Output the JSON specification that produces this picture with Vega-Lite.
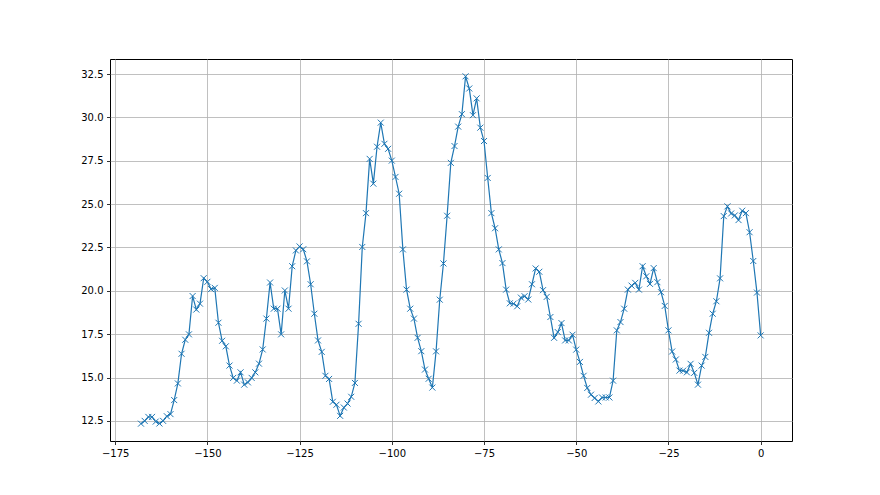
{
  "$schema": "https://vega.github.io/schema/vega-lite/v6.json",
  "width": 682,
  "height": 382,
  "autosize": {"type": "none"},
  "padding": {"left": 110, "top": 59, "right": 88, "bottom": 54},
  "background": "white",
  "config": {
    "view": {"stroke": "black", "strokeWidth": 1},
    "font": "DejaVu Sans"
  },
  "data": {
    "values": [
      {"x": -168, "y": 12.34}, {"x": -167, "y": 12.5}, {"x": -166, "y": 12.73}, {"x": -165, "y": 12.73},
      {"x": -164, "y": 12.46}, {"x": -163, "y": 12.35}, {"x": -162, "y": 12.5}, {"x": -161, "y": 12.77},
      {"x": -160, "y": 12.89}, {"x": -159, "y": 13.7}, {"x": -158, "y": 14.66}, {"x": -157, "y": 16.37},
      {"x": -156, "y": 17.18}, {"x": -155, "y": 17.49}, {"x": -154, "y": 19.7}, {"x": -153, "y": 18.92},
      {"x": -152, "y": 19.26}, {"x": -151, "y": 20.73}, {"x": -150, "y": 20.52}, {"x": -149, "y": 20.1},
      {"x": -148, "y": 20.17}, {"x": -147, "y": 18.16}, {"x": -146, "y": 17.12}, {"x": -145, "y": 16.8},
      {"x": -144, "y": 15.69}, {"x": -143, "y": 14.98}, {"x": -142, "y": 14.82}, {"x": -141, "y": 15.3},
      {"x": -140, "y": 14.59}, {"x": -139, "y": 14.72}, {"x": -138, "y": 14.98}, {"x": -137, "y": 15.3},
      {"x": -136, "y": 15.8}, {"x": -135, "y": 16.62}, {"x": -134, "y": 18.4}, {"x": -133, "y": 20.48},
      {"x": -132, "y": 18.97}, {"x": -131, "y": 18.97}, {"x": -130, "y": 17.49}, {"x": -129, "y": 20.02},
      {"x": -128, "y": 18.97}, {"x": -127, "y": 21.42}, {"x": -126, "y": 22.33}, {"x": -125, "y": 22.56},
      {"x": -124, "y": 22.4}, {"x": -123, "y": 21.7}, {"x": -122, "y": 20.38}, {"x": -121, "y": 18.68},
      {"x": -120, "y": 17.14}, {"x": -119, "y": 16.48}, {"x": -118, "y": 15.1}, {"x": -117, "y": 14.92},
      {"x": -116, "y": 13.6}, {"x": -115, "y": 13.43}, {"x": -114, "y": 12.79}, {"x": -113, "y": 13.27},
      {"x": -112, "y": 13.5}, {"x": -111, "y": 13.89}, {"x": -110, "y": 14.69}, {"x": -109, "y": 18.1},
      {"x": -108, "y": 22.53}, {"x": -107, "y": 24.48}, {"x": -106, "y": 27.61}, {"x": -105, "y": 26.18},
      {"x": -104, "y": 28.31}, {"x": -103, "y": 29.7}, {"x": -102, "y": 28.48}, {"x": -101, "y": 28.19},
      {"x": -100, "y": 27.51}, {"x": -99, "y": 26.57}, {"x": -98, "y": 25.6}, {"x": -97, "y": 22.39},
      {"x": -96, "y": 20.07}, {"x": -95, "y": 18.97}, {"x": -94, "y": 18.4}, {"x": -93, "y": 17.29},
      {"x": -92, "y": 16.52}, {"x": -91, "y": 15.46}, {"x": -90, "y": 14.93}, {"x": -89, "y": 14.42},
      {"x": -88, "y": 16.51}, {"x": -87, "y": 19.49}, {"x": -86, "y": 21.58}, {"x": -85, "y": 24.33},
      {"x": -84, "y": 27.38}, {"x": -83, "y": 28.35}, {"x": -82, "y": 29.47}, {"x": -81, "y": 30.19},
      {"x": -80, "y": 32.37}, {"x": -79, "y": 31.67}, {"x": -78, "y": 30.13}, {"x": -77, "y": 31.1},
      {"x": -76, "y": 29.41}, {"x": -75, "y": 28.64}, {"x": -74, "y": 26.51}, {"x": -73, "y": 24.48},
      {"x": -72, "y": 23.61}, {"x": -71, "y": 22.39}, {"x": -70, "y": 21.6}, {"x": -69, "y": 20.07},
      {"x": -68, "y": 19.28}, {"x": -67, "y": 19.26}, {"x": -66, "y": 19.11}, {"x": -65, "y": 19.61},
      {"x": -64, "y": 19.69}, {"x": -63, "y": 19.5}, {"x": -62, "y": 20.38}, {"x": -61, "y": 21.29},
      {"x": -60, "y": 21.1}, {"x": -59, "y": 20.04}, {"x": -58, "y": 19.65}, {"x": -57, "y": 18.49},
      {"x": -56, "y": 17.29}, {"x": -55, "y": 17.62}, {"x": -54, "y": 18.14}, {"x": -53, "y": 17.14},
      {"x": -52, "y": 17.14}, {"x": -51, "y": 17.47}, {"x": -50, "y": 16.61}, {"x": -49, "y": 15.9},
      {"x": -48, "y": 15.1}, {"x": -47, "y": 14.4}, {"x": -46, "y": 14.01}, {"x": -45, "y": 13.82},
      {"x": -44, "y": 13.62}, {"x": -43, "y": 13.85}, {"x": -42, "y": 13.85}, {"x": -41, "y": 13.85},
      {"x": -40, "y": 14.82}, {"x": -39, "y": 17.72}, {"x": -38, "y": 18.2}, {"x": -37, "y": 18.97},
      {"x": -36, "y": 20.07}, {"x": -35, "y": 20.3}, {"x": -34, "y": 20.46}, {"x": -33, "y": 20.07},
      {"x": -32, "y": 21.42}, {"x": -31, "y": 20.84}, {"x": -30, "y": 20.4}, {"x": -29, "y": 21.31},
      {"x": -28, "y": 20.5}, {"x": -27, "y": 19.92}, {"x": -26, "y": 19.13}, {"x": -25, "y": 17.72},
      {"x": -24, "y": 16.5}, {"x": -23, "y": 16.04}, {"x": -22, "y": 15.4}, {"x": -21, "y": 15.4},
      {"x": -20, "y": 15.3}, {"x": -19, "y": 15.79}, {"x": -18, "y": 15.27}, {"x": -17, "y": 14.59},
      {"x": -16, "y": 15.69}, {"x": -15, "y": 16.19}, {"x": -14, "y": 17.58}, {"x": -13, "y": 18.68},
      {"x": -12, "y": 19.4}, {"x": -11, "y": 20.72}, {"x": -10, "y": 24.31}, {"x": -9, "y": 24.87},
      {"x": -8, "y": 24.46}, {"x": -7, "y": 24.35}, {"x": -6, "y": 24.08}, {"x": -5, "y": 24.62},
      {"x": -4, "y": 24.48}, {"x": -3, "y": 23.38}, {"x": -2, "y": 21.72}, {"x": -1, "y": 19.9},
      {"x": 0, "y": 17.43}
    ]
  },
  "encoding": {
    "x": {
      "field": "x", "type": "quantitative",
      "scale": {"domain": [-176.4, 8.5], "nice": false, "zero": false},
      "axis": {
        "title": null, "values": [-175, -150, -125, -100, -75, -50, -25, 0],
        "grid": true, "gridColor": "#b0b0b0", "gridWidth": 0.8,
        "domain": false, "tickColor": "black", "tickSize": 3.5, "tickWidth": 0.8,
        "labelColor": "black", "labelFontSize": 10, "labelPadding": 3.5, "labelFont": "DejaVu Sans"
      }
    },
    "y": {
      "field": "y", "type": "quantitative",
      "scale": {"domain": [11.34, 33.37], "nice": false, "zero": false},
      "axis": {
        "title": null, "values": [12.5, 15, 17.5, 20, 22.5, 25, 27.5, 30, 32.5], "format": ".1f",
        "grid": true, "gridColor": "#b0b0b0", "gridWidth": 0.8,
        "domain": false, "tickColor": "black", "tickSize": 3.5, "tickWidth": 0.8,
        "labelColor": "black", "labelFontSize": 10, "labelPadding": 3.5, "labelFont": "DejaVu Sans"
      }
    }
  },
  "layer": [
    {"mark": {"type": "line", "color": "#1f77b4", "strokeWidth": 1.2, "clip": true}},
    {"mark": {"type": "point", "shape": "M-1,-1L1,1M-1,1L1,-1", "filled": false, "stroke": "#1f77b4", "strokeWidth": 1, "size": 36, "opacity": 1, "clip": true}}
  ]
}
